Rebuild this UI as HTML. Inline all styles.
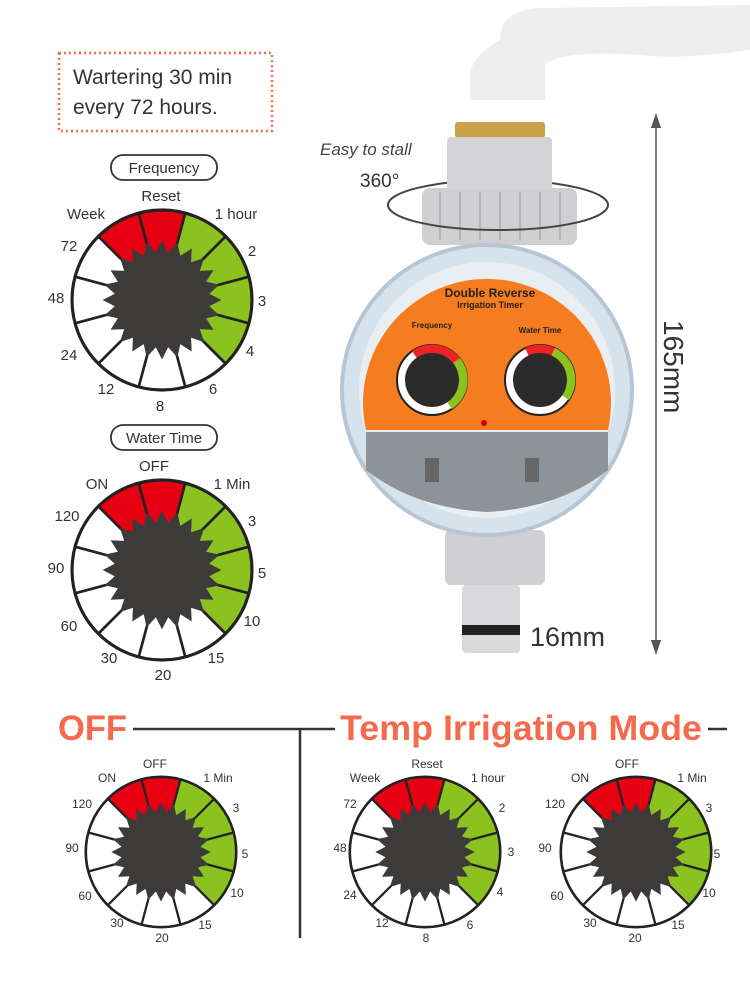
<!DOCTYPE html>
<html><head><meta charset="utf-8"><style>
html,body{margin:0;padding:0;background:#fff;}
svg{display:block;font-family:"Liberation Sans",sans-serif;}
</style></head><body>
<svg width="750" height="1000" viewBox="0 0 750 1000" xmlns="http://www.w3.org/2000/svg">
<defs>
<symbol id="dialF" viewBox="-105 -105 210 210">
 <circle r="100" fill="#fff"/>
 <path d="M0 0 L-70.7 -70.7 A100 100 0 0 1 25.9 -96.6 Z" fill="#e60012"/>
 <path d="M0 0 L25.9 -96.6 A100 100 0 0 1 70.7 70.7 Z" fill="#8cc21f"/>
 <g stroke="#222" stroke-width="3">
 <line x1="0" y1="0" x2="-25.9" y2="-96.6"/><line x1="0" y1="0" x2="25.9" y2="-96.6"/>
 <line x1="0" y1="0" x2="70.7" y2="-70.7"/><line x1="0" y1="0" x2="-70.7" y2="-70.7"/>
 <line x1="0" y1="0" x2="96.6" y2="-25.9"/><line x1="0" y1="0" x2="96.6" y2="25.9"/>
 <line x1="0" y1="0" x2="70.7" y2="70.7"/><line x1="0" y1="0" x2="25.9" y2="96.6"/>
 <line x1="0" y1="0" x2="-25.9" y2="96.6"/><line x1="0" y1="0" x2="-70.7" y2="70.7"/>
 <line x1="0" y1="0" x2="-96.6" y2="25.9"/><line x1="0" y1="0" x2="-96.6" y2="-25.9"/>
 </g>
 <circle r="100" fill="none" stroke="#222" stroke-width="3.5"/>
 <polygon class="star" fill="#3d3a3a"/>
</symbol>
</defs>

<rect x="59" y="53" width="213" height="78" fill="none" stroke="#f07050" stroke-width="2.5" stroke-dasharray="2 3"/>
<text x="73" y="84" font-size="21" fill="#333">Wartering 30 min</text>
<text x="73" y="114" font-size="21" fill="#333">every 72 hours.</text>

<rect x="111" y="155" width="106" height="25" rx="12" fill="#fff" stroke="#333" stroke-width="1.8"/>
<text x="164" y="173" font-size="15" fill="#333" text-anchor="middle">Frequency</text>
<rect x="111" y="425" width="106" height="25" rx="12" fill="#fff" stroke="#333" stroke-width="1.8"/>
<text x="164" y="443" font-size="15" fill="#333" text-anchor="middle">Water Time</text>

<use href="#dialF" x="67.5" y="205.5" width="189" height="189"/>
<g font-size="15" fill="#333" text-anchor="middle">
<text x="161" y="201">Reset</text><text x="86" y="219">Week</text><text x="236" y="219">1 hour</text>
<text x="69" y="251">72</text><text x="252" y="256">2</text><text x="56" y="303">48</text><text x="262" y="306">3</text>
<text x="69" y="360">24</text><text x="250" y="356">4</text><text x="106" y="394">12</text><text x="213" y="394">6</text><text x="160" y="411">8</text>
</g>
<use href="#dialF" x="67.5" y="475.5" width="189" height="189"/>
<g font-size="15" fill="#333" text-anchor="middle">
<text x="154" y="471">OFF</text><text x="97" y="489">ON</text><text x="232" y="489">1 Min</text>
<text x="67" y="521">120</text><text x="252" y="526">3</text><text x="56" y="573">90</text><text x="262" y="578">5</text>
<text x="69" y="631">60</text><text x="252" y="626">10</text><text x="109" y="663">30</text><text x="216" y="663">15</text><text x="163" y="680">20</text>
</g>

<text x="58" y="740" font-size="35" font-weight="bold" fill="#f46a4c" textLength="69" lengthAdjust="spacingAndGlyphs">OFF</text>
<line x1="133" y1="729" x2="335" y2="729" stroke="#333" stroke-width="2.5"/>
<line x1="300" y1="729" x2="300" y2="938" stroke="#333" stroke-width="2.5"/>
<text x="340" y="740" font-size="35" font-weight="bold" fill="#f46a4c" textLength="362" lengthAdjust="spacingAndGlyphs">Temp Irrigation Mode</text>
<line x1="708" y1="729" x2="727" y2="729" stroke="#333" stroke-width="2.5"/>

<use href="#dialF" x="82" y="773" width="158" height="158"/>
<use href="#dialF" x="346" y="773" width="158" height="158"/>
<use href="#dialF" x="557" y="773" width="158" height="158"/>
<g font-size="12" fill="#333" text-anchor="middle">
<text x="155" y="768">OFF</text><text x="107" y="782">ON</text><text x="218" y="782">1 Min</text>
<text x="82" y="808">120</text><text x="236" y="812">3</text><text x="72" y="852">90</text><text x="245" y="858">5</text>
<text x="85" y="900">60</text><text x="237" y="897">10</text><text x="117" y="927">30</text><text x="205" y="929">15</text><text x="162" y="942">20</text>

<text x="427" y="768">Reset</text><text x="365" y="782">Week</text><text x="488" y="782">1 hour</text>
<text x="350" y="808">72</text><text x="502" y="812">2</text><text x="340" y="852">48</text><text x="511" y="856">3</text>
<text x="350" y="899">24</text><text x="500" y="896">4</text><text x="382" y="927">12</text><text x="470" y="929">6</text><text x="426" y="942">8</text>

<text x="627" y="768">OFF</text><text x="580" y="782">ON</text><text x="692" y="782">1 Min</text>
<text x="555" y="808">120</text><text x="709" y="812">3</text><text x="545" y="852">90</text><text x="717" y="858">5</text>
<text x="557" y="900">60</text><text x="709" y="897">10</text><text x="590" y="927">30</text><text x="678" y="929">15</text><text x="635" y="942">20</text>
</g>

<path d="M500 40 Q500 10 540 8 L750 5 L750 50 Q680 60 640 55 Q560 50 545 65 L545 100 L470 100 L470 70 Q480 50 500 40Z" fill="#eeeeee"/>
<rect x="455" y="122" width="90" height="16" rx="3" fill="#c9a24a"/>
<rect x="447" y="137" width="105" height="50" rx="4" fill="#d4d4d6"/>
<rect x="422" y="188" width="155" height="57" rx="8" fill="#cfcfd1"/>
<g stroke="#b5b5b8" stroke-width="2">
<line x1="440" y1="192" x2="440" y2="240"/><line x1="460" y1="192" x2="460" y2="240"/><line x1="480" y1="192" x2="480" y2="240"/><line x1="500" y1="192" x2="500" y2="240"/><line x1="520" y1="192" x2="520" y2="240"/><line x1="540" y1="192" x2="540" y2="240"/><line x1="560" y1="192" x2="560" y2="240"/>
</g>
<ellipse cx="498" cy="205" rx="110" ry="25" fill="none" stroke="#444" stroke-width="2"/>
<rect x="447" y="175" width="105" height="14" fill="#d4d4d6"/>
<rect x="445" y="530" width="100" height="55" rx="6" fill="#d0d0d2"/>
<rect x="462" y="585" width="58" height="68" rx="4" fill="#d9d9db"/>
<rect x="462" y="625" width="58" height="10" fill="#222"/>
<circle cx="487" cy="390" r="145" fill="#d6e2ec" stroke="#b7c6d4" stroke-width="4"/>
<circle cx="487" cy="390" r="128" fill="#e9eef3"/>
<path d="M366 430 A124 124 0 1 1 608 430 Z" fill="#f57d1f"/>
<path d="M366 432 L608 432 L608 470 Q560 508 487 512 Q414 508 366 470Z" fill="#8e9398"/>
<rect x="425" y="458" width="14" height="24" fill="#666"/><rect x="525" y="458" width="14" height="24" fill="#666"/>
<circle cx="432" cy="380" r="35" fill="#fff" stroke="#222" stroke-width="2"/>
<circle cx="540" cy="380" r="35" fill="#fff" stroke="#222" stroke-width="2"/>
<path d="M432 380 L412 351 A35 35 0 0 1 460 358 Z" fill="#e22"/>
<path d="M432 380 L460 358 A35 35 0 0 1 452 409 Z" fill="#8cc21f"/>
<path d="M540 380 L525 348 A35 35 0 0 1 555 348 Z" fill="#e22"/>
<path d="M540 380 L555 348 A35 35 0 0 1 569 400 Z" fill="#8cc21f"/>
<circle cx="432" cy="380" r="27" fill="#2b2b2b"/>
<circle cx="540" cy="380" r="27" fill="#2b2b2b"/>
<circle cx="484" cy="423" r="3" fill="#c00"/>
<g font-weight="bold" fill="#222" text-anchor="middle">
<text x="490" y="297" font-size="12">Double Reverse</text>
<text x="490" y="308" font-size="9">Irrigation Timer</text>
<text x="432" y="328" font-size="8">Frequency</text>
<text x="540" y="333" font-size="8">Water Time</text>
</g>
<text x="320" y="155" font-size="17" fill="#444" font-style="italic">Easy to stall</text>
<text x="360" y="187" font-size="19" fill="#333">360°</text>
<line x1="656" y1="118" x2="656" y2="650" stroke="#555" stroke-width="1.5"/>
<path d="M651 128 L656 113 L661 128Z M651 640 L656 655 L661 640Z" fill="#555"/>
<text x="0" y="0" font-size="28" fill="#333" transform="translate(664 320) rotate(90)">165mm</text>
<text x="530" y="646" font-size="27" fill="#333">16mm</text>

<script>
(function(){var p=[];for(var i=0;i<48;i++){var a=i*Math.PI/24;var r=(i%2?53:66);p.push((r*Math.sin(a)).toFixed(1)+","+(-r*Math.cos(a)).toFixed(1));}
document.querySelectorAll('.star').forEach(function(s){s.setAttribute('points',p.join(' '));});})();
</script>
</svg>
</body></html>
